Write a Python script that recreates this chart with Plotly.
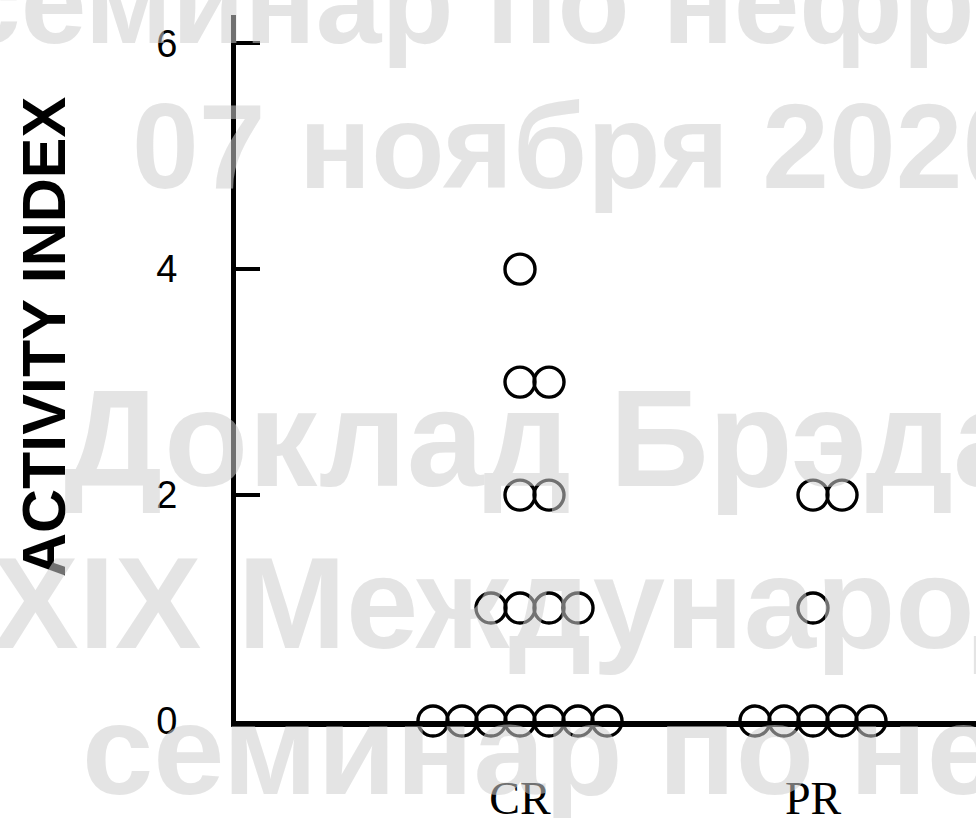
import plotly.graph_objects as go

# Response groups and the activity index of each patient
groups = ["CR", "PR"]
group_pos = [1, 2]
cr_activity = [4, 3, 3, 2, 2, 1, 1, 1, 1, 0, 0, 0, 0, 0, 0, 0]
pr_activity = [2, 2, 1, 0, 0, 0, 0, 0]
y_ticks = [0, 2, 4, 6]

# Watermark lines printed across the slide
wm_lines = [
    "семинар по нефрологии",
    "07 ноября 2020",
    "Доклад Брэда Ровина",
    "XIX Международный",
    "семинар по нефрологии",
]

W, H = 976, 818
ML, MR, MT, MB = 236, 0, 15, 97
PW, PH = W - ML - MR, H - MT - MB
DOT_STEP = 0.099  # horizontal spacing between stacked dots (x units)


def px_x(px):
    return (px - ML) / PW


def px_y(py):
    return (H - MB - py) / PH


def dot_layout(center, values):
    """Stack equal values side by side, as in a dot plot."""
    xs, ys = [], []
    for v in sorted(set(values), reverse=True):
        n = values.count(v)
        start = -((n - 1) // 2)
        for i in range(n):
            xs.append(center + (start + i) * DOT_STEP)
            ys.append(v)
    return xs, ys


fig = go.Figure()
for pos, vals in zip(group_pos, [cr_activity, pr_activity]):
    xs, ys = dot_layout(pos, vals)
    fig.add_trace(go.Scatter(
        x=xs, y=ys, mode="markers", cliponaxis=False, showlegend=False,
        marker=dict(symbol="circle-open", size=30, color="black",
                    line=dict(width=3.4, color="black")),
    ))

annotations = [
    dict(text="<b>ACTIVITY INDEX</b>", textangle=-90, xref="paper", yref="paper",
         x=px_x(44), y=px_y(337), xanchor="center", yanchor="middle",
         showarrow=False,
         font=dict(family="Liberation Sans, Arial, sans-serif", size=61, color="black")),
]

# (left edge px, vertical centre px, font size) of each watermark line
wm_pos = [(-47, 2, 118), (130, 146, 120), (62, 438, 138), (-10, 603, 130), (80, 749, 128)]
for txt, (lx, cy, fs) in zip(wm_lines, wm_pos):
    annotations.append(dict(
        text="<b>" + txt + "</b>", xref="paper", yref="paper",
        x=px_x(lx), y=px_y(cy), xanchor="left", yanchor="middle",
        showarrow=False,
        font=dict(family="Liberation Sans, Arial, sans-serif", size=fs,
                  color="rgba(205,205,205,0.55)"),
    ))

fig.update_layout(
    width=W, height=H,
    margin=dict(l=ML, r=MR, t=MT, b=MB, pad=0),
    paper_bgcolor="white", plot_bgcolor="white",
    annotations=annotations,
    xaxis=dict(
        range=[1 - (520 - ML) / 293, 1 - (520 - ML) / 293 + PW / 293],
        tickvals=group_pos, ticktext=groups, ticks="",
        showgrid=False, zeroline=False, automargin=False,
        showline=True, linecolor="black", linewidth=6,
        ticklabelstandoff=32,
        tickfont=dict(family="Liberation Serif, Times New Roman, serif", size=46, color="black"),
    ),
    yaxis=dict(
        range=[0, 6.25], tickvals=y_ticks, ticks="inside", ticklen=24,
        tickwidth=4, tickcolor="black",
        showgrid=False, zeroline=False, automargin=False,
        showline=True, linecolor="black", linewidth=5,
        ticklabelstandoff=46,
        tickfont=dict(family="Liberation Sans, Arial, sans-serif", size=38, color="black"),
    ),
)

fig.write_html("out.html")
